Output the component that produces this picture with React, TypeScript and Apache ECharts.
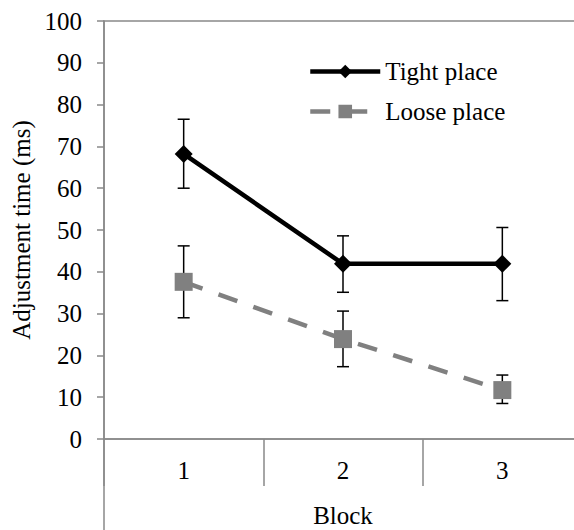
import React, { useEffect, useRef } from "react";
import * as echarts from "echarts";

const categories = ["1", "2", "3"];
const tightMean = [68.2, 41.9, 41.9];
const tightUpper = [76.5, 48.6, 50.6];
const tightLower = [60.0, 35.1, 33.1];
const looseMean = [37.6, 23.9, 11.7];
const looseUpper = [46.2, 30.6, 15.3];
const looseLower = [29.0, 17.3, 8.5];

const FONT = "Liberation Serif";
const FS = 25;
const AXIS_COLOR = "#898989";

function errorSeries(upper: number[], lower: number[]) {
  return {
    type: "custom",
    z: 1,
    silent: true,
    data: categories.map((c, i) => [i, lower[i], upper[i]]),
    renderItem: (params: any, api: any) => {
      const x = api.value(0);
      const lo = api.coord([x, api.value(1)]);
      const hi = api.coord([x, api.value(2)]);
      const hw = 6;
      const style = { stroke: "#000", lineWidth: 1.5 };
      return {
        type: "group",
        children: [
          { type: "line", shape: { x1: lo[0], y1: lo[1], x2: hi[0], y2: hi[1] }, style },
          { type: "line", shape: { x1: hi[0] - hw, y1: hi[1], x2: hi[0] + hw, y2: hi[1] }, style },
          { type: "line", shape: { x1: lo[0] - hw, y1: lo[1], x2: lo[0] + hw, y2: lo[1] }, style },
        ],
      };
    },
  };
}

export default function App() {
  const ref = useRef<HTMLDivElement>(null);
  useEffect(() => {
    if (!ref.current) return;
    const chart = echarts.init(ref.current, undefined, { renderer: "svg" });
    const txt = { fontFamily: FONT, fontSize: FS, color: "#000" };
    chart.setOption({
      animation: false,
      textStyle: { fontFamily: FONT },
      grid: {
        left: 104,
        right: 0,
        top: 21,
        bottom: 91,
        outerBoundsMode: "none",
        containLabel: false,
        show: true,
        borderColor: AXIS_COLOR,
        borderWidth: 1.5,
        backgroundColor: "transparent",
      },
      legend: {
        orient: "vertical",
        left: 308,
        top: 59,
        padding: 0,
        itemWidth: 70,
        itemHeight: 17,
        itemGap: 15,
        textStyle: txt,
        data: [
          { name: "Tight place", lineStyle: { width: 4.5 } },
          { name: "Loose place", lineStyle: { width: 4.5 } },
        ],
      },
      xAxis: {
        type: "category",
        data: categories,
        boundaryGap: true,
        axisLine: { show: true, lineStyle: { color: AXIS_COLOR, width: 1.5 } },
        axisTick: { show: true, length: 47, lineStyle: { color: AXIS_COLOR, width: 1.5 } },
        axisLabel: { ...txt, margin: 19 },
        name: "Block",
        nameLocation: "middle",
        nameGap: 64,
        nameTextStyle: txt,
        splitLine: { show: false },
      },
      yAxis: {
        type: "value",
        min: 0,
        max: 100,
        interval: 10,
        axisLine: { show: true, lineStyle: { color: AXIS_COLOR, width: 1.5 } },
        axisTick: { show: true, length: 7, lineStyle: { color: AXIS_COLOR, width: 1.5 } },
        axisLabel: { ...txt, margin: 22 },
        splitLine: { show: false },
        name: "Adjustment time (ms)",
        nameLocation: "middle",
        nameRotate: 90,
        nameGap: 70,
        nameTextStyle: txt,
      },
      graphic: [
        {
          type: "line",
          shape: { x1: 104, y1: 439, x2: 104, y2: 530 },
          style: { stroke: AXIS_COLOR, lineWidth: 1.5 },
        },
      ],
      series: [
        errorSeries(tightUpper, tightLower),
        errorSeries(looseUpper, looseLower),
        {
          name: "Tight place",
          type: "line",
          z: 3,
          data: tightMean,
          symbol: "diamond",
          symbolSize: 18,
          lineStyle: { color: "#000", width: 4.5 },
          itemStyle: { color: "#000" },
        },
        {
          name: "Loose place",
          type: "line",
          z: 2,
          data: looseMean,
          symbol: "rect",
          symbolSize: 18,
          lineStyle: { color: "#808080", width: 4.5, type: [20, 17] },
          itemStyle: { color: "#808080" },
        },
      ],
    });
    return () => chart.dispose();
  }, []);
  return (
    <div style={{ position: "absolute", left: 0, top: 0, width: 574, height: 530, overflow: "hidden", background: "#fff" }}>
      <div ref={ref} style={{ width: 582, height: 530 }} />
    </div>
  );
}
